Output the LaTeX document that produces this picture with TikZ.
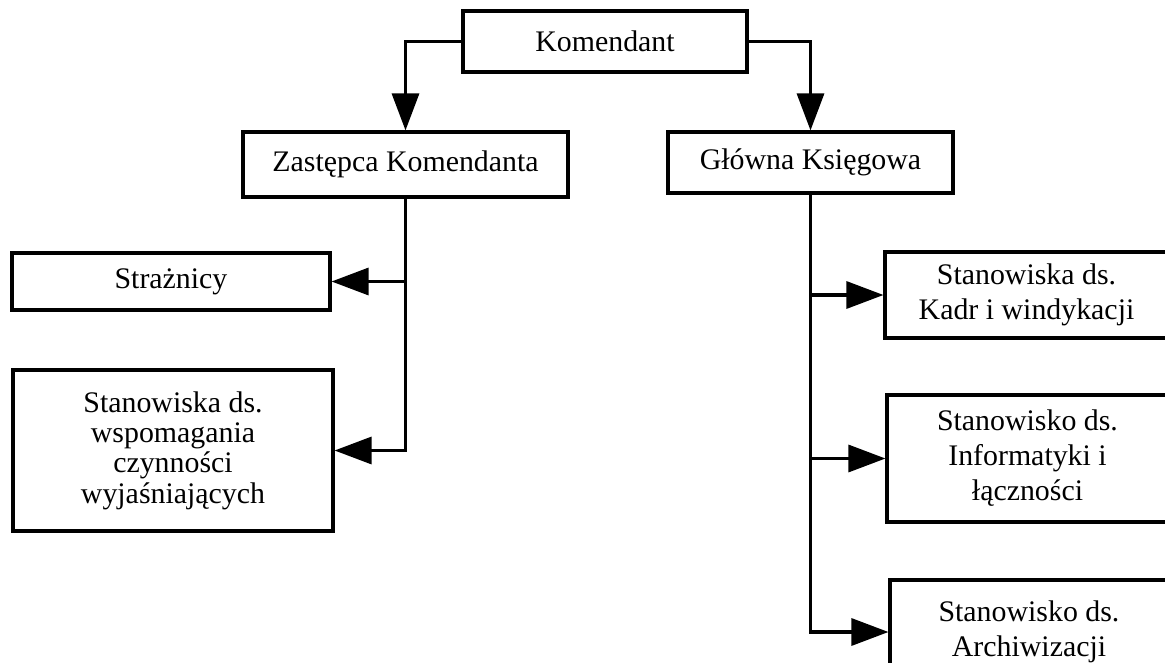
\documentclass[tikz,border=0pt]{standalone}
\usepackage{fontspec}
\setmainfont{Liberation Serif}
\usepackage{tikz}
\usetikzlibrary{arrows.meta}
\definecolor{ink}{HTML}{000000}
\definecolor{paper}{HTML}{FFFFFF}
\tikzset{
  box/.style={draw=ink, line width=1.8pt, inner sep=0pt, align=center, text=ink, font=\fontsize{17}{20}\selectfont},
  boxl/.style={box, font=\fontsize{17}{17.3}\selectfont},
  boxr/.style={box, font=\fontsize{17}{19.9}\selectfont},
  link/.style={draw=ink, line width=1.8pt, -{Triangle[length=0.74cm,width=0.54cm]}},
}
\begin{document}
\begin{tikzpicture}[x=0.02cm, y=-0.02cm]
  \clip (0,0) rectangle (1165,662);
  \fill[paper] (0,0) rectangle (1165,662);
  \node[box, minimum width=5.68cm, minimum height=1.22cm] (kom) at (605,41.5) {Komendant};
  \node[box, minimum width=6.5cm, minimum height=1.3cm] (zast) at (405.5,164.5) {Zastępca Komendanta};
  \node[box, minimum width=5.7cm, minimum height=1.22cm] (glow) at (810.5,162.5) {Główna Księgowa};
  \node[box, minimum width=6.36cm, minimum height=1.14cm] (straz) at (171,281.5) {Strażnicy};
  \node[boxl, minimum width=6.4cm, minimum height=3.22cm] (wsp) at (173,450.5)
    {Stanowiska ds.\\wspomagania\\czynności\\wyjaśniających};
  \node[boxr, minimum width=5.66cm, minimum height=1.72cm] (kadr) at (1026.5,295)
    {Stanowiska ds.\\Kadr i windykacji};
  \node[boxr, minimum width=5.62cm, minimum height=2.54cm] (inf) at (1027.5,458.5)
    {Stanowisko ds.\\Informatyki i\\łączności};
  \node[boxr, minimum width=5.56cm, minimum height=2.08cm] (arch) at (1029,632)
    {Stanowisko ds.\\Archiwizacji};
  \draw[link] (kom.west) -| (zast.north);
  \draw[link] (kom.east) -| (glow.north);
  \draw[link] (zast.south) |- (straz.east);
  \draw[link] (zast.south) |- (wsp.east);
  \draw[link] (glow.south) |- (kadr.west);
  \draw[link] (glow.south) |- (inf.west);
  \draw[link] (glow.south) |- (arch.west);
\end{tikzpicture}
\end{document}
